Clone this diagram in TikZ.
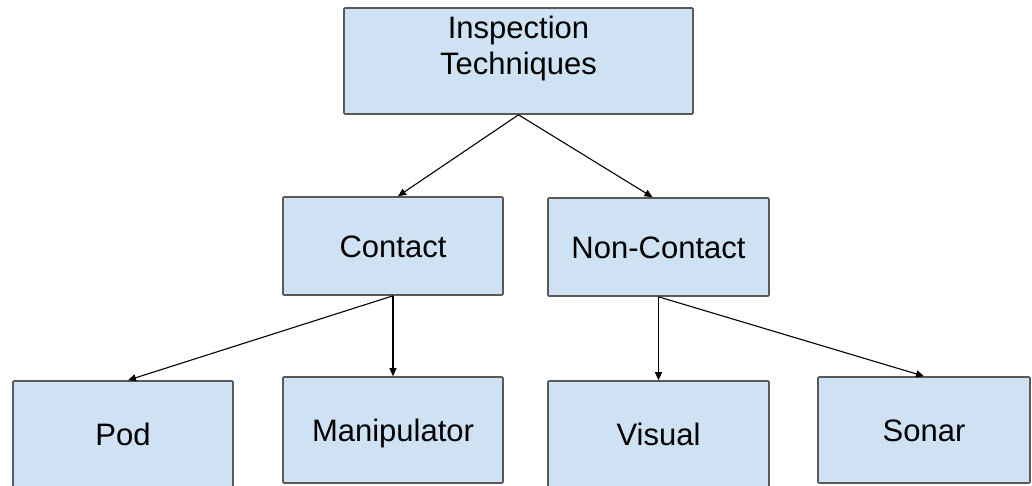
\documentclass[tikz,border=0pt]{standalone}
\usepackage{fontspec}
\setmainfont{Liberation Sans}
\usetikzlibrary{arrows.meta}
\definecolor{boxfill}{HTML}{CFE2F3}
\definecolor{boxline}{HTML}{595959}
\tikzset{
  box/.style={draw=boxline, fill=boxfill, line width=1.6pt, rounded corners=1pt,
    inner sep=0pt, text height=22pt, text depth=0pt,
    font=\fontsize{31}{36}\selectfont},
  link/.style={draw=black, line width=1.1pt,
    -{Triangle[length=8pt,width=7pt]}}
}
\begin{document}
\begin{tikzpicture}[x=1pt,y=-1pt]
  \useasboundingbox (0,0) rectangle (1032,485);
  \fill[white] (0,0) rectangle (1032,485);
  \clip (0,0) rectangle (1032,485);

  % root
  \node[box, minimum width=349pt, minimum height=106pt] (root) at (518.5,61) {};
  \node[font=\fontsize{31}{36}\selectfont, align=center, inner sep=0pt, anchor=north]
    (roottext) at ([yshift=-9pt]root.north) {Inspection\\Techniques};

  % second level
  \node[box, minimum width=220pt, minimum height=98pt] (contact) at (393,246) {Contact};
  \node[box, minimum width=221pt, minimum height=98pt] (noncontact) at (658.5,247) {Non-Contact};

  % leaves
  \node[box, minimum width=220pt, minimum height=106pt] (pod) at (123,434) {Pod};
  \node[box, minimum width=220pt, minimum height=106pt] (manip) at (393,430) {Manipulator};
  \node[box, minimum width=221pt, minimum height=106pt] (visual) at (658.5,434) {Visual};
  \node[box, minimum width=212pt, minimum height=106pt] (sonar) at (924,430) {Sonar};

  % connectors
  \draw[link] (root.south) -- ([xshift=5pt]contact.north);
  \draw[link] (root.south) -- ([xshift=-6pt]noncontact.north);
  \draw[link] (contact.south) -- ([xshift=5pt]pod.north);
  \draw[link] (contact.south) -- (manip.north);
  \draw[link] (noncontact.south) -- (visual.north);
  \draw[link] (noncontact.south) -- (sonar.north);
\end{tikzpicture}
\end{document}
